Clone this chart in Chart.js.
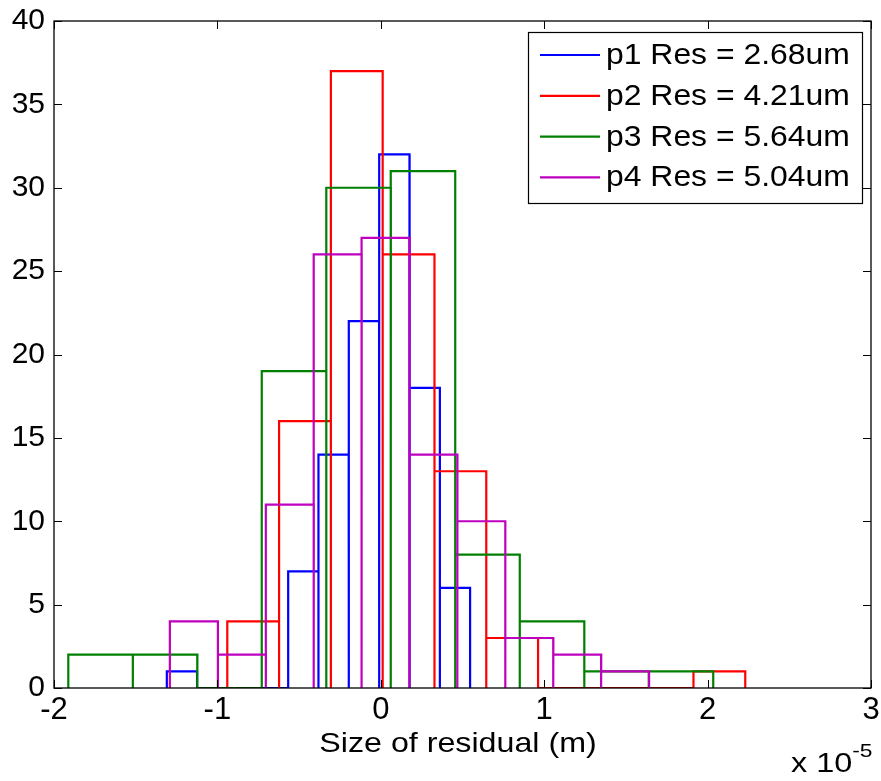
<!DOCTYPE html>
<html>
<head>
<meta charset="utf-8">
<script src="https://cdn.jsdelivr.net/npm/chart.js@4/dist/chart.umd.min.js"></script>
<style>
  html, body { margin: 0; padding: 0; background: #ffffff; }
  canvas { display: block; }
</style>
</head>
<body>
<canvas id="hist" width="881" height="781"></canvas>
<script>
// Residual histograms (10 bins each), bin centres in units of 1e-5 m
const seriesLabels = ['p1 Res = 2.68um', 'p2 Res = 4.21um', 'p3 Res = 5.64um', 'p4 Res = 5.04um'];
const seriesColors = ['#0000ff', '#ff0000', '#008000', '#bf00bf'];

const p1Centers = [-1.217, -1.032, -0.846, -0.660, -0.474, -0.289, -0.103, 0.083, 0.269, 0.454];
const p1Counts  = [1, 0, 0, 0, 7, 14, 22, 32, 18, 6];

const p2Centers = [-0.781, -0.464, -0.147, 0.170, 0.487, 0.804, 1.121, 1.438, 1.755, 2.072];
const p2Counts  = [4, 16, 37, 26, 13, 3, 0, 0, 0, 1];

const p3Centers = [-1.715, -1.320, -0.926, -0.531, -0.136, 0.258, 0.653, 1.048, 1.443, 1.837];
const p3Counts  = [2, 2, 0, 19, 30, 31, 8, 4, 1, 1];

const p4Centers = [-1.144, -0.850, -0.557, -0.264, 0.029, 0.322, 0.615, 0.909, 1.202, 1.495];
const p4Counts  = [4, 2, 11, 26, 27, 14, 10, 3, 2, 1];

const xTicks = [-2, -1, 0, 1, 2, 3];
const yTicks = [0, 5, 10, 15, 20, 25, 30, 35, 40];
const xAxisTitle = 'Size of residual (m)';
const xMultiplierBase = 'x 10';
const xMultiplierExp = '-5';

const FONT = '"Liberation Sans", Arial, Helvetica, sans-serif';

// Outline each bin as a closed rectangle standing on y = 0
function barOutline(centers, counts) {
  const w = centers[1] - centers[0];
  const pts = [];
  centers.forEach((c, i) => {
    const l = c - w / 2, r = c + w / 2;
    pts.push({ x: l, y: 0 }, { x: l, y: counts[i] }, { x: r, y: counts[i] }, { x: r, y: 0 });
  });
  return pts;
}

const allSeries = [
  [p1Centers, p1Counts],
  [p2Centers, p2Counts],
  [p3Centers, p3Counts],
  [p4Centers, p4Counts]
];

const datasets = allSeries.map(([c, n], i) => ({
  label: seriesLabels[i],
  data: barOutline(c, n),
  showLine: true,
  borderColor: seriesColors[i],
  backgroundColor: seriesColors[i],
  borderWidth: 2.2,
  borderJoinStyle: 'miter',
  borderCapStyle: 'butt',
  pointRadius: 0,
  pointHoverRadius: 0,
  tension: 0,
  fill: false,
  order: allSeries.length - 1 - i   // later series painted on top
}));

// Axes box, inward tick marks, legend and axis captions
const decorations = {
  id: 'decorations',
  afterDatasetsDraw(chart) {
    const { ctx, chartArea: a, scales: { x, y } } = chart;
    ctx.save();
    ctx.strokeStyle = '#000000';
    ctx.lineWidth = 1.3;
    ctx.strokeRect(a.left, a.top, a.right - a.left, a.bottom - a.top);
    const tl = 8;
    ctx.beginPath();
    xTicks.forEach(v => {
      const px = Math.round(x.getPixelForValue(v)) + 0.5;
      ctx.moveTo(px, a.bottom); ctx.lineTo(px, a.bottom - tl);
      ctx.moveTo(px, a.top); ctx.lineTo(px, a.top + tl);
    });
    yTicks.forEach(v => {
      const py = Math.round(y.getPixelForValue(v)) + 0.5;
      ctx.moveTo(a.left, py); ctx.lineTo(a.left + tl, py);
      ctx.moveTo(a.right, py); ctx.lineTo(a.right - tl, py);
    });
    ctx.lineWidth = 1;
    ctx.stroke();

    // legend box
    const bx = a.right - 343, by = a.top + 11, bw = 334, bh = 171;
    ctx.fillStyle = '#ffffff';
    ctx.fillRect(bx, by, bw, bh);
    ctx.lineWidth = 1.2;
    ctx.strokeStyle = '#000000';
    ctx.strokeRect(bx + 0.5, by + 0.5, bw, bh);
    ctx.font = '29px ' + FONT;
    ctx.textBaseline = 'middle';
    ctx.textAlign = 'left';
    seriesLabels.forEach((lab, i) => {
      const ry = by + 23 + i * 40.8;
      ctx.beginPath();
      ctx.strokeStyle = seriesColors[i];
      ctx.lineWidth = 2.2;
      ctx.moveTo(bx + 12, ry);
      ctx.lineTo(bx + 72, ry);
      ctx.stroke();
      ctx.save();
      ctx.translate(bx + 78, ry + 1);
      ctx.scale(1.1, 1);
      ctx.fillStyle = '#000000';
      ctx.fillText(lab, 0, 0);
      ctx.restore();
    });

    // x axis caption
    ctx.fillStyle = '#000000';
    ctx.textBaseline = 'alphabetic';
    ctx.save();
    ctx.translate(458, 752);
    ctx.scale(1.15, 1);
    ctx.font = '28px ' + FONT;
    ctx.textAlign = 'center';
    ctx.fillText(xAxisTitle, 0, 0);
    ctx.restore();

    // exponent multiplier
    ctx.save();
    ctx.translate(791, 772);
    ctx.scale(1.2, 1);
    ctx.font = '27px ' + FONT;
    ctx.textAlign = 'left';
    ctx.fillText(xMultiplierBase, 0, 0);
    const bwid = ctx.measureText(xMultiplierBase).width;
    ctx.font = '19px ' + FONT;
    ctx.fillText(xMultiplierExp, bwid, -15);
    ctx.restore();
    ctx.restore();
  }
};

new Chart(document.getElementById('hist'), {
  type: 'scatter',
  data: { datasets },
  options: {
    responsive: false,
    animation: false,
    devicePixelRatio: 1,
    layout: { padding: { top: 21, right: 10, left: 0, bottom: 0 } },
    plugins: {
      legend: { display: false },
      tooltip: { enabled: false }
    },
    scales: {
      x: {
        type: 'linear',
        min: -2,
        max: 3,
        afterBuildTicks: s => { s.ticks = xTicks.map(v => ({ value: v })); },
        afterFit: s => { s.height = 93; },
        grid: { display: false, drawTicks: false },
        border: { display: false },
        ticks: {
          color: '#000000',
          padding: 0,
          maxRotation: 0,
          autoSkip: false,
          font: { family: FONT, size: 31, lineHeight: 1.42 },
          callback: v => String(v)
        }
      },
      y: {
        type: 'linear',
        min: 0,
        max: 40,
        afterBuildTicks: s => { s.ticks = yTicks.map(v => ({ value: v })); },
        afterFit: s => { s.width = 54; },
        grid: { display: false, drawTicks: false },
        border: { display: false },
        ticks: {
          color: '#000000',
          padding: 9,
          autoSkip: false,
          font: { family: FONT, size: 30, lineHeight: 0.8 },
          callback: v => String(v)
        }
      }
    }
  },
  plugins: [decorations]
});
</script>
</body>
</html>
